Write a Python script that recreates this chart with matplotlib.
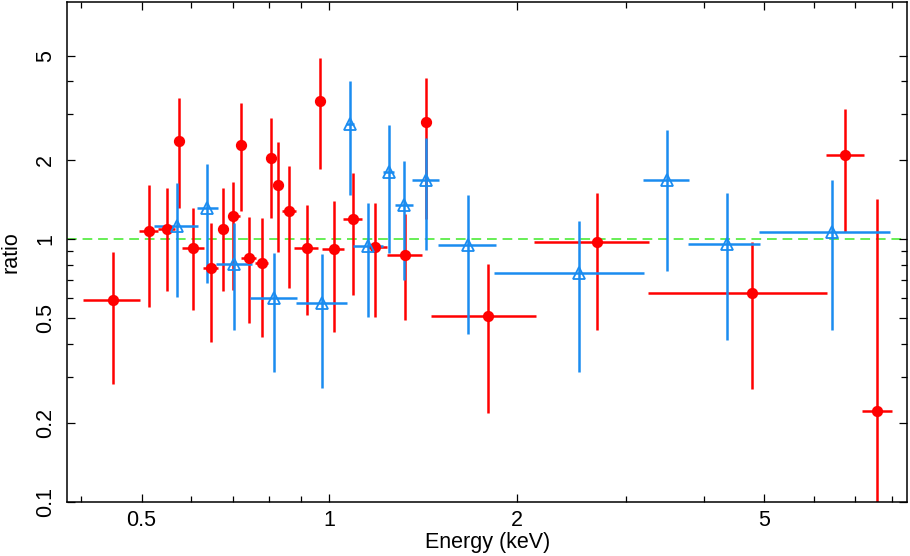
import numpy as np
import matplotlib
matplotlib.use('Agg')
import matplotlib.pyplot as plt
from matplotlib.ticker import FixedLocator, NullFormatter

plt.rcParams['font.family'] = ['Liberation Sans', 'DejaVu Sans']

# red data set (filled circles): energy with bin edges, ratio with error range
red_e = [0.450, 0.514, 0.550, 0.575, 0.605, 0.647, 0.675, 0.701, 0.723, 0.745,
         0.780, 0.807, 0.829, 0.861, 0.920, 0.968, 1.018, 1.093, 1.185, 1.324,
         1.431, 1.798, 2.696, 4.775, 6.742, 7.580]
red_e_lo = [0.402, 0.496, 0.531, 0.568, 0.581, 0.627, 0.664, 0.688, 0.715, 0.723,
            0.761, 0.798, 0.819, 0.840, 0.879, 0.957, 0.974, 1.053, 1.155, 1.240,
            1.410, 1.457, 2.133, 3.248, 6.283, 7.178]
red_e_hi = [0.497, 0.531, 0.566, 0.583, 0.629, 0.664, 0.686, 0.720, 0.733, 0.764,
            0.799, 0.816, 0.839, 0.884, 0.960, 0.982, 1.058, 1.130, 1.238, 1.409,
            1.450, 2.147, 3.261, 6.306, 7.217, 8.003]
red_r = [0.587, 1.076, 1.092, 2.372, 0.924, 0.775, 1.095, 1.224, 2.285, 0.849,
         0.810, 2.050, 1.611, 1.279, 0.926, 3.372, 0.918, 1.195, 0.935, 0.869,
         2.804, 0.510, 0.977, 0.624, 2.092, 0.222]
red_r_lo = [0.280, 0.552, 0.633, 1.313, 0.536, 0.405, 0.633, 0.639, 1.279, 0.479,
            0.423, 1.210, 0.892, 0.654, 0.517, 1.861, 0.443, 0.611, 0.505, 0.491,
            1.200, 0.218, 0.452, 0.269, 1.066, 0.050]
red_r_hi = [0.894, 1.607, 1.565, 3.452, 1.317, 1.151, 1.565, 1.655, 3.313, 1.216,
            1.203, 2.904, 2.346, 1.905, 1.348, 4.894, 1.400, 1.786, 1.372, 1.253,
            4.127, 0.805, 1.502, 0.977, 3.126, 1.430]

# blue data set (open triangles)
blue_e = [0.570, 0.638, 0.704, 0.817, 0.976, 1.081, 1.154, 1.246, 1.319, 1.431,
          1.672, 2.519, 3.484, 4.348, 6.425]
blue_e_lo = [0.524, 0.614, 0.659, 0.747, 0.884, 1.065, 1.093, 1.221, 1.276, 1.361,
             1.497, 1.842, 3.188, 3.773, 4.905]
blue_e_hi = [0.616, 0.663, 0.752, 0.887, 1.068, 1.097, 1.221, 1.271, 1.366, 1.503,
             1.852, 3.200, 3.787, 4.923, 7.943]
blue_r = [1.121, 1.319, 0.806, 0.599, 0.571, 2.748, 0.940, 1.806, 1.348, 1.680,
          0.955, 0.742, 1.680, 0.960, 1.066]
blue_r_lo = [0.601, 0.684, 0.452, 0.313, 0.272, 1.472, 0.508, 0.884, 0.698, 0.914,
             0.434, 0.313, 0.760, 0.415, 0.451]
blue_r_hi = [1.636, 1.942, 1.154, 0.887, 0.876, 4.009, 1.372, 2.724, 1.985, 2.444,
             1.481, 1.171, 2.614, 1.508, 1.690]

red = '#ff0000'
blue = '#1a8cf0'
green = '#66ee55'


def draw_set(ax, e, e_lo, e_hi, r, r_lo, r_hi, color, marker, mfc, ms):
    e = np.array(e)
    r = np.array(r)
    xerr = [e - np.array(e_lo), np.array(e_hi) - e]
    yerr = [r - np.array(r_lo), np.array(r_hi) - r]
    ax.errorbar(e, r, xerr=xerr, yerr=yerr, fmt=marker, color=color, ecolor=color,
                elinewidth=1.8, capsize=0, ms=ms, mfc=mfc, mec=color, mew=1.3)


fig = plt.figure(figsize=(9.1, 5.56), dpi=100)
ax = fig.add_axes([0.074, 0.0977, 0.923, 0.8987])

ax.axhline(1.0, color=green, lw=1.4, dashes=(5, 3), zorder=1)
draw_set(ax, red_e, red_e_lo, red_e_hi, red_r, red_r_lo, red_r_hi, red, 'o', red, 6.8)
draw_set(ax, blue_e, blue_e_lo, blue_e_hi, blue_r, blue_r_lo, blue_r_hi, blue, '^', 'none', 8.5)

ax.set_xscale('log')
ax.set_yscale('log')
ax.set_xlim(0.380, 8.48)
ax.set_ylim(0.1, 8.03)

ax.xaxis.set_major_locator(FixedLocator([0.5, 1, 2, 5]))
ax.xaxis.set_minor_locator(FixedLocator([0.4, 0.6, 0.7, 0.8, 0.9, 3, 4, 6, 7, 8]))
ax.set_xticklabels(['0.5', '1', '2', '5'])
ax.xaxis.set_minor_formatter(NullFormatter())

ax.yaxis.set_major_locator(FixedLocator([0.1, 0.2, 0.5, 1, 2, 5]))
ax.yaxis.set_minor_locator(FixedLocator([0.3, 0.4, 0.6, 0.7, 0.8, 0.9, 3, 4]))
ax.set_yticklabels(['0.1', '0.2', '0.5', '1', '2', '5'])
ax.yaxis.set_minor_formatter(NullFormatter())

ax.tick_params(which='both', direction='in', top=True, right=True, labelsize=15.5, width=0.9)
ax.tick_params(which='major', length=6)
ax.tick_params(which='minor', length=4)
ax.tick_params(axis='x', pad=6)
ax.tick_params(axis='y', pad=8)
for lab in ax.get_yticklabels():
    lab.set_rotation(90)
    lab.set_va('center')

for sp in ax.spines.values():
    sp.set_linewidth(1.1)

ax.set_xlabel('Energy (keV)', fontsize=15.5, labelpad=1)
ax.set_ylabel('ratio', fontsize=15.5, labelpad=10)

fig.savefig('out.png', dpi=100)
